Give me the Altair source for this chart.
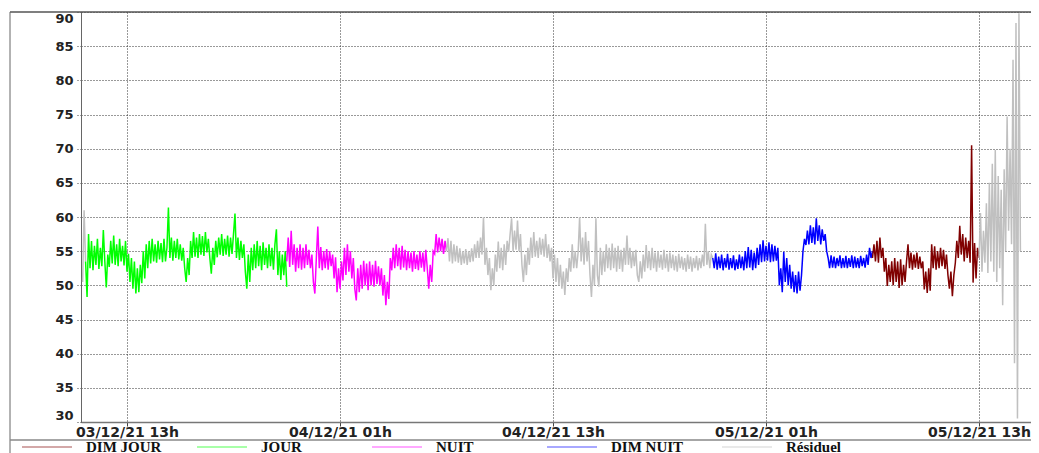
import altair as alt
import pandas as pd

# ---------------- data ----------------
series_names = ["DIM JOUR", "JOUR", "NUIT", "DIM NUIT", "Résiduel"]
series_colors = ["#800000", "#00FF00", "#FF00FF", "#0000FF", "#C0C0C0"]

y_ticks = [30, 35, 40, 45, 50, 55, 60, 65, 70, 75, 80, 85, 90]

# all series sampled every 5 minutes
# residual blip at the very start, from 03/12 10:30
resid0_vals = [50.5, 61.0, 53.5]

# JOUR, from 03/12 10:40
jour_vals = [53.5, 48.3, 57.5, 52.5, 56.5, 52.2, 55.8, 53.0, 56.8, 52.4,
             55.5, 52.8, 58.1, 53.5, 49.7, 54.5, 52.7, 56.5, 53.2, 57.3,
             53.0, 56.0, 52.8, 56.8, 53.5, 55.8, 52.9, 56.5, 52.0, 54.6,
             50.5, 54.0, 49.5, 53.5, 48.8, 52.5, 49.0, 53.0, 50.3, 55.0,
             51.0, 56.0, 52.5, 56.5, 53.2, 56.8, 53.5, 56.0, 53.3, 56.5,
             53.8, 56.2, 53.4, 56.8, 53.5, 55.5, 61.4, 54.0, 57.0, 53.6,
             56.5, 54.0, 56.8, 53.8, 56.0, 53.6, 55.5, 52.5, 50.5, 54.0,
             51.5, 56.5, 54.0, 57.8, 54.2, 57.0, 54.0, 57.5, 54.5, 57.2,
             54.3, 57.8, 54.8, 56.8, 54.0, 51.7, 55.5, 53.0, 56.5, 54.1,
             57.0, 54.5, 57.5, 54.3, 56.8, 54.5, 57.3, 54.2, 57.0, 54.6,
             57.5, 60.5, 54.0, 57.0, 53.7, 56.5, 54.0, 56.0, 52.0, 49.5,
             54.5, 50.5, 55.5, 52.2, 56.0, 52.5, 56.5, 52.8, 55.8, 52.2,
             56.3, 53.0, 55.5, 52.5, 56.0, 52.8, 55.5, 52.3, 56.0, 58.2,
             51.5, 55.0, 50.8, 54.5, 51.5, 55.0, 49.8]

# NUIT, from 03/12 22:00
nuit_vals = [53.5, 57.0, 52.7, 58.0, 53.0, 56.0, 52.0, 55.5, 52.5, 56.0,
             52.3, 55.5, 52.5, 56.0, 53.0, 55.2, 52.5, 54.5, 50.5, 48.8,
             54.0, 58.6, 52.5, 55.6, 52.2, 55.0, 52.5, 55.3, 52.3, 55.0,
             52.8, 54.5, 51.0, 54.1, 49.0, 52.5, 49.5, 53.5, 50.7, 55.5,
             51.5, 56.0, 52.0, 55.0, 51.0, 54.0, 49.5, 47.8, 52.5, 49.0,
             53.0, 49.5, 53.6, 50.0, 53.2, 49.3, 53.5, 50.0, 53.0, 49.8,
             53.6, 50.2, 52.8, 50.0, 52.5, 48.5, 51.5, 47.1, 50.5, 48.0,
             54.0, 52.2, 55.5, 52.5, 56.0, 52.8, 55.5, 52.3, 55.8, 52.6,
             55.2, 52.2, 55.0, 52.5, 54.8, 52.0, 55.0, 52.4, 54.5, 52.2,
             55.0, 52.6, 54.8, 52.0, 55.2, 52.5, 49.5, 53.0, 50.5, 55.0,
             54.6, 57.5, 54.8, 57.0, 55.0, 56.8, 54.6, 56.5, 55.0]

# Résiduel, from 04/12 07:00
resid1_vals = [55.0, 56.9, 53.5, 56.5, 53.2, 56.0, 53.5, 55.8, 53.3, 55.4,
               53.0, 55.0, 53.2, 55.3, 53.0, 55.0, 53.4, 55.4, 53.5, 56.0,
               54.0, 56.5, 54.0, 57.0, 54.5, 60.0, 53.0, 55.5, 51.5, 54.0,
               49.3, 52.5, 50.0, 54.5, 52.0, 56.4, 52.5, 55.5, 52.2, 56.0,
               53.0, 56.5, 54.9, 57.5, 59.8, 55.0, 58.0, 55.2, 59.5, 55.0,
               57.5, 53.0, 50.5, 54.5, 51.5, 55.5, 53.0, 57.0, 54.0, 57.8,
               54.2, 56.5, 54.0, 57.0, 54.5, 56.8, 54.2, 57.5, 54.0, 56.0,
               53.5, 55.5, 51.0, 54.5, 50.5, 54.0, 50.0, 53.0, 49.5, 52.0,
               48.6, 52.5, 50.5, 54.0, 52.0, 56.0, 52.5, 55.0, 52.5, 54.9,
               60.0, 53.5, 57.0, 53.0, 57.8, 53.5, 56.5, 51.5, 48.3, 53.0,
               50.0, 59.8, 51.5, 49.8, 55.5, 51.5, 55.0, 52.0, 56.0, 52.5,
               55.5, 52.2, 56.1, 52.5, 55.5, 52.0, 55.8, 52.4, 55.2, 52.0,
               55.5, 53.0, 57.3, 53.0, 55.5, 52.5, 55.0, 52.8, 55.2, 51.5,
               50.5, 53.5, 51.0, 54.5, 52.0, 55.9, 52.5, 55.0, 52.2, 55.5,
               52.5, 54.8, 52.0, 55.0, 52.6, 54.5, 52.3, 55.2, 52.5, 54.6,
               52.0, 54.8, 52.5, 54.5, 52.2, 54.3, 52.0, 54.6, 52.5, 54.2,
               52.3, 54.0, 52.0, 54.5, 52.4, 54.2, 52.0, 54.0, 52.5, 54.3,
               52.2, 54.0, 52.5, 54.5, 52.8, 59.0, 53.0, 55.0, 52.5, 54.5,
               54.0]

# DIM NUIT, from 04/12 22:00
dimnuit_vals = [54.0, 52.5, 54.7, 52.3, 54.2, 52.5, 54.5, 52.2, 54.0, 52.6,
                54.6, 52.3, 54.0, 52.5, 54.4, 52.2, 53.8, 52.4, 54.5, 52.5,
                54.2, 52.2, 55.0, 52.5, 55.6, 52.6, 55.2, 52.2, 54.8, 52.5,
                55.5, 53.0, 56.0, 53.4, 56.6, 53.5, 55.8, 53.6, 56.3, 53.4,
                56.0, 53.5, 55.8, 53.6, 55.5, 50.0, 52.5, 49.0, 54.9, 50.5,
                54.0, 50.0, 53.0, 49.5, 52.0, 49.0, 51.5, 48.8, 52.0, 49.2,
                51.5, 55.0, 56.8, 55.9, 58.0, 56.0, 58.8, 56.2, 58.5, 56.0,
                59.8, 56.5, 58.8, 56.0, 58.2, 56.5, 57.5, 55.0, 54.0, 52.5,
                54.4, 52.6, 54.2, 52.5, 54.0, 52.8, 54.4, 52.5, 54.0, 52.6,
                54.3, 52.5, 54.0, 52.7, 54.4, 52.5, 54.2, 52.6, 54.0, 52.5,
                54.3, 52.8, 54.0, 52.6, 54.5, 53.0, 55.5, 54.0, 55.0]

# DIM JOUR, from 05/12 07:00
dimjour_vals = [54.0, 56.0, 53.5, 56.5, 53.3, 57.0, 54.0, 55.5, 52.0, 54.0,
                49.9, 53.0, 50.5, 53.5, 50.0, 54.0, 50.5, 53.5, 49.6, 53.8,
                50.0, 53.0, 50.5, 53.5, 56.0, 52.5, 54.8, 52.3, 54.5, 52.6,
                54.8, 52.4, 54.2, 52.5, 53.5, 49.4, 52.0, 48.9, 52.5, 49.2,
                56.0, 52.5, 55.7, 52.3, 55.0, 52.5, 55.5, 52.8, 55.2, 52.4,
                54.5, 51.5, 49.5, 52.0, 48.4, 51.5, 53.3, 56.5, 54.0, 58.7,
                54.5, 57.5, 53.5, 57.0, 54.0, 56.5, 53.3, 70.5, 50.4, 56.2,
                51.0, 55.5, 54.0]

# Résiduel, from 05/12 13:00
resid2_vals = [54.0, 60.6, 52.0, 58.0, 53.3, 62.0, 51.8, 65.0, 53.5, 67.8,
               52.0, 69.8, 50.5, 66.0, 52.5, 64.0, 47.1, 67.0, 55.0, 74.7,
               58.0, 70.0, 56.0, 83.0, 38.6, 88.4, 30.5, 89.8, 55.0]

segments = [
    ("Résiduel", "r0", "2021-12-03 10:30", resid0_vals),
    ("JOUR", "jour", "2021-12-03 10:40", jour_vals),
    ("NUIT", "nuit", "2021-12-03 22:00", nuit_vals),
    ("Résiduel", "r1", "2021-12-04 07:00", resid1_vals),
    ("DIM NUIT", "dimnuit", "2021-12-04 22:00", dimnuit_vals),
    ("DIM JOUR", "dimjour", "2021-12-05 07:00", dimjour_vals),
    ("Résiduel", "r2", "2021-12-05 13:00", resid2_vals),
]

rows = []
for name, seg, start, vals in segments:
    times = pd.date_range(start, periods=len(vals), freq="5min")
    for t, v in zip(times, vals):
        rows.append({"t": t.strftime("%Y-%m-%dT%H:%M:%S"), "v": v,
                     "serie": name, "seg": seg})
df = pd.DataFrame(rows)

x_ticks = [
    alt.DateTime(year=2021, month=12, date=3, hours=13),
    alt.DateTime(year=2021, month=12, date=4, hours=1),
    alt.DateTime(year=2021, month=12, date=4, hours=13),
    alt.DateTime(year=2021, month=12, date=5, hours=1),
    alt.DateTime(year=2021, month=12, date=5, hours=13),
]
x_domain = [
    alt.DateTime(year=2021, month=12, date=3, hours=10, minutes=24, seconds=30),
    alt.DateTime(year=2021, month=12, date=5, hours=15, minutes=55, seconds=45),
]

W, H = 950, 410

lines = alt.Chart(df).mark_line(strokeWidth=1.5, clip=True).encode(
    x=alt.X("t:T",
            scale=alt.Scale(domain=x_domain),
            axis=alt.Axis(values=x_ticks, format="%d/%m/%y %Hh", title=None,
                          labelFont="DejaVu Sans", labelFontSize=14,
                          labelFontWeight="bold", labelColor="#222",
                          tickSize=4, tickColor="#444", labelPadding=-1,
                          domainColor="#777", domainWidth=1.5,
                          grid=True, gridDash=[1, 2], gridColor="#333")),
    y=alt.Y("v:Q",
            scale=alt.Scale(domain=[30, 90], nice=False, zero=False),
            axis=alt.Axis(values=y_ticks, title=None, labelFlush=True,
                          labelFont="DejaVu Sans", labelFontSize=13,
                          labelFontWeight="bold", labelColor="#222",
                          tickSize=6, tickDash=[1, 2], tickColor="#444",
                          labelPadding=2, domainColor="#666",
                          grid=True, gridDash=[1, 2], gridColor="#333")),
    color=alt.Color("serie:N",
                    scale=alt.Scale(domain=series_names, range=series_colors),
                    legend=alt.Legend(title=None, orient="none",
                                      legendX=-60, legendY=428,
                                      direction="horizontal", columns=5,
                                      symbolType="stroke", symbolSize=2500,
                                      symbolStrokeWidth=1.5, symbolOpacity=0.45,
                                      clipHeight=14, gridAlign="all",
                                      columnPadding=34, labelOffset=13,
                                      labelFont="Liberation Serif",
                                      labelFontSize=15, labelFontWeight="bold",
                                      labelColor="#111", padding=0)),
    detail="seg:N",
)

dummy = pd.DataFrame({"k": [0]})
top_line = alt.Chart(dummy).mark_rule(color="#555", strokeWidth=1.5).encode(
    x=alt.value(-71), x2=alt.value(W), y=alt.value(0))
left_line = alt.Chart(dummy).mark_rule(color="#666", strokeWidth=1).encode(
    x=alt.value(-71), y=alt.value(0), y2=alt.value(445))
legend_line = alt.Chart(dummy).mark_rule(color="#888", strokeWidth=1.5).encode(
    x=alt.value(-71), x2=alt.value(W), y=alt.value(428))

chart = alt.layer(lines, top_line, left_line, legend_line).properties(
    width=W, height=H,
    autosize=alt.AutoSizeParams(type="none"),
    padding={"left": 73, "top": 4, "right": 0, "bottom": 33},
    background="white",
).configure_view(stroke="transparent")

chart.save("out.html", embed_options={"renderer": "svg", "actions": False})
